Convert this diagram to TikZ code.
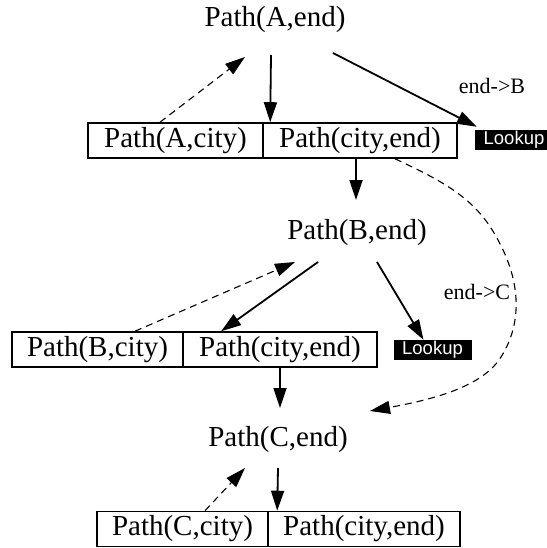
\documentclass[tikz,border=0pt]{standalone}
\usepackage{fontspec}
\setmainfont{Liberation Serif}
\newfontfamily\lookupfont{Liberation Sans}
\usetikzlibrary{arrows.meta}
\begin{document}
\begin{tikzpicture}[x=1pt,y=-1pt,
  goal/.style={inner sep=0pt,anchor=base,font=\fontsize{29}{34}\selectfont},
  cell/.style={draw,line width=1.6pt,minimum height=35pt,inner sep=0pt,font=\fontsize{29}{34}\selectfont},
  lookup/.style={fill=black,text=white,inner sep=0pt,minimum width=78pt,minimum height=20pt,font=\lookupfont\fontsize{18.5}{21}\selectfont},
  lbl/.style={inner sep=0pt,font=\fontsize{22}{26}\selectfont},
  solidarrow/.style={line width=1.8pt,-{Triangle[length=20pt,width=13pt]}},
  dasharrow/.style={line width=1.1pt,dash pattern=on 7pt off 5pt,-{Triangle[length=20pt,width=13pt]}}]
\useasboundingbox (0,0) rectangle (546,548);
% goal nodes
\node[goal] (A) at (275,27) {Path(A,end)};
\node[goal] (B) at (357,239) {Path(B,end)};
\node[goal] (C) at (278,446) {Path(C,end)};
% row 1
\node[cell,minimum width=175pt] (r1l) at (175.5,140.5) {Path(A,city)};
\node[cell,minimum width=194pt] (r1r) at (360,140.5) {Path(city,end)};
% row 2
\node[cell,minimum width=171pt] (r2l) at (97.5,349.5) {Path(B,city)};
\node[cell,minimum width=194pt] (r2r) at (280,349.5) {Path(city,end)};
% row 3
\node[cell,minimum width=171pt] (r3l) at (182.5,529) {Path(C,city)};
\node[cell,minimum width=192pt] (r3r) at (364,529) {Path(city,end)};
% lookups
\node[lookup] (L1) at (514,140) {Lookup};
\node[lookup] (L2) at (432.5,350) {Lookup};
% labels
\node[lbl] (lb1) at (492,86) {end->B};
\node[lbl] (lb2) at (477,292) {end->C};
% connectors from A
\draw[dasharrow] ([xshift=-15.5pt]r1l.north) -- ([shift={(-30,30)}]A.base);
\draw[solidarrow] ([shift={(-4,28)}]A.base) -- ([xshift=8pt]r1r.north west);
\draw[solidarrow] ([shift={(58,26)}]A.base) -- ([shift={(2,-3)}]L1.north west);
% row1 to B
\draw[solidarrow] ([xshift=-4pt]r1r.south) -- ([shift={(-1,-39)}]B.base);
% dashed curve from row1 to C
\draw[dasharrow]
  ([xshift=35pt]r1r.south) .. controls (447,183) and (477,200) .. (498,240)
  .. controls (521,282) and (523,325) .. (499,360)
  .. controls (479,388) and (430,400) .. ([shift={(92,-35)}]C.base);
% connectors from B
\draw[dasharrow] ([xshift=37.5pt]r2l.north) -- ([shift={(-62,23)}]B.base);
\draw[solidarrow] ([shift={(-39,23)}]B.base) -- ([xshift=39pt]r2r.north west);
\draw[solidarrow] ([shift={(20,23)}]B.base) -- ([xshift=-9pt]L2.north);
% row2 to C
\draw[solidarrow] (r2r.south) -- ([shift={(2,-38)}]C.base);
% connectors from C
\draw[dasharrow] ([xshift=22.5pt]r3l.north) -- ([shift={(-33,22)}]C.base);
\draw[solidarrow] ([shift={(0,22)}]C.base) -- ([xshift=10pt]r3r.north west);
\end{tikzpicture}
\end{document}
